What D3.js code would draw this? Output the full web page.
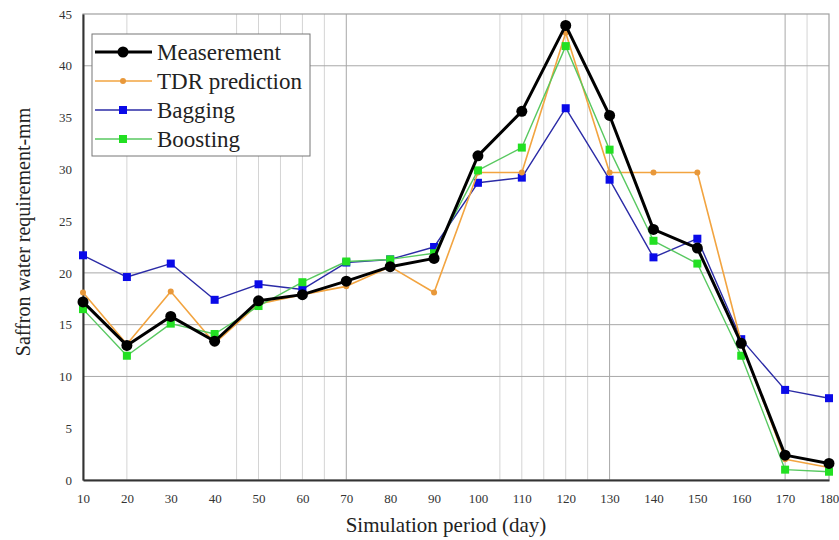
<!DOCTYPE html>
<html>
<head>
<meta charset="utf-8">
<script src="https://cdn.jsdelivr.net/npm/d3@7"></script>
<style>
  body { margin: 0; background: #fff; }
  svg text { font-family: "Liberation Serif", "Times New Roman", serif; }
</style>
</head>
<body>
<div id="chart"></div>
<script>
// Chart data
var days = [10, 20, 30, 40, 50, 60, 70, 80, 90, 100, 110, 120, 130, 140, 150, 160, 170, 180];
var measurement = [17.2, 13.0, 15.8, 13.4, 17.3, 17.9, 19.2, 20.6, 21.4, 31.3, 35.6, 43.9, 35.2, 24.2, 22.4, 13.2, 2.4, 1.6];
var tdr = [18.1, 13.1, 18.2, 13.2, 17.0, 17.9, 18.7, 20.6, 18.1, 29.7, 29.7, 43.2, 29.7, 29.7, 29.7, 13.3, 2.0, 1.2];
var bagging = [21.7, 19.6, 20.9, 17.4, 18.9, 18.4, 21.0, 21.3, 22.5, 28.7, 29.2, 35.9, 29.0, 21.5, 23.3, 13.6, 8.7, 7.9];
var boosting = [16.5, 12.0, 15.1, 14.1, 16.8, 19.1, 21.1, 21.3, 21.9, 29.9, 32.1, 41.9, 31.9, 23.1, 20.9, 12.0, 1.0, 0.8];

var xTicks = [10, 20, 30, 40, 50, 60, 70, 80, 90, 100, 110, 120, 130, 140, 150, 160, 170, 180];
var yTicks = [0, 5, 10, 15, 20, 25, 30, 35, 40, 45];

// gridlines as they appear in the figure
var xGridLight = [20, 45, 50, 55, 60, 65, 105, 110, 115, 120, 125, 175];
var xGridDark = [70, 130, 170];
var yGrid = [10, 15, 20, 40];

var svgWidth = 839;
var svgHeight = 540;

var margin = { top: 14, right: 10, bottom: 60, left: 83 };
var width = svgWidth - margin.left - margin.right;
var height = svgHeight - margin.top - margin.bottom;

var svg = d3.select("#chart")
    .append("svg")
    .attr("width", svgWidth)
    .attr("height", svgHeight);

var chartGroup = svg.append("g")
    .attr("transform", `translate(${margin.left}, ${margin.top})`);

var xScale = d3.scaleLinear().domain([10, 180]).range([0, width]);
var yScale = d3.scaleLinear().domain([0, 45]).range([height, 0]);

// Gridlines
chartGroup.selectAll(".vgrid-light")
    .data(xGridLight)
    .enter()
    .append("line")
    .attr("x1", d => xScale(d))
    .attr("x2", d => xScale(d))
    .attr("y1", 0)
    .attr("y2", height)
    .attr("stroke", "#d4d4d4")
    .attr("stroke-width", 1);

chartGroup.selectAll(".vgrid-dark")
    .data(xGridDark)
    .enter()
    .append("line")
    .attr("x1", d => xScale(d))
    .attr("x2", d => xScale(d))
    .attr("y1", 0)
    .attr("y2", height)
    .attr("stroke", "#a8a8a8")
    .attr("stroke-width", 1);

chartGroup.selectAll(".hgrid")
    .data(yGrid)
    .enter()
    .append("line")
    .attr("x1", 0)
    .attr("x2", width)
    .attr("y1", d => yScale(d))
    .attr("y2", d => yScale(d))
    .attr("stroke", "#a8a8a8")
    .attr("stroke-width", 1);

// Plot border (top and right)
chartGroup.append("rect")
    .attr("x", 0)
    .attr("y", 0)
    .attr("width", width)
    .attr("height", height)
    .attr("fill", "none")
    .attr("stroke", "#a0a0a0")
    .attr("stroke-width", 1.2);

// Axes
var bottomAxis = d3.axisBottom(xScale).tickValues(xTicks).tickSize(0).tickPadding(14);
var leftAxis = d3.axisLeft(yScale).tickValues(yTicks).tickSize(0).tickPadding(11);

var xAxis = chartGroup.append("g")
    .attr("transform", `translate(0, ${height})`)
    .call(bottomAxis);

var yAxis = chartGroup.append("g")
    .call(leftAxis);

[xAxis, yAxis].forEach(function (ax) {
    ax.select(".domain").attr("stroke", "#333").attr("stroke-width", 2);
    ax.selectAll("text")
        .attr("fill", "#333")
        .style("font-size", "13px")
        .style("font-family", "'Liberation Serif', serif");
});

// Series
var series = [
    { name: "Bagging", values: bagging, line: "#2b2ba6", lineWidth: 1.4, marker: "square", markerColor: "#0a0ae8", size: 8 },
    { name: "TDR prediction", values: tdr, line: "#f2a440", lineWidth: 1.6, marker: "circle", markerColor: "#e8983a", size: 3 },
    { name: "Boosting", values: boosting, line: "#58c860", lineWidth: 1.4, marker: "square", markerColor: "#22e022", size: 8 },
    { name: "Measerement", values: measurement, line: "#000", lineWidth: 3, marker: "circle", markerColor: "#000", size: 5.5 }
];

var line = d3.line()
    .x(d => xScale(d.x))
    .y(d => yScale(d.y));

series.forEach(function (s) {
    var pts = days.map((d, i) => ({ x: d, y: s.values[i] }));
    var g = chartGroup.append("g");
    g.append("path")
        .datum(pts)
        .attr("d", line)
        .attr("fill", "none")
        .attr("stroke", s.line)
        .attr("stroke-width", s.lineWidth)
        .attr("stroke-linejoin", "round");
    if (s.marker === "circle") {
        g.selectAll("circle")
            .data(pts)
            .enter()
            .append("circle")
            .attr("cx", d => xScale(d.x))
            .attr("cy", d => yScale(d.y))
            .attr("r", s.size)
            .attr("fill", s.markerColor);
    } else {
        g.selectAll("rect")
            .data(pts)
            .enter()
            .append("rect")
            .attr("x", d => xScale(d.x) - s.size / 2)
            .attr("y", d => yScale(d.y) - s.size / 2)
            .attr("width", s.size)
            .attr("height", s.size)
            .attr("fill", s.markerColor);
    }
});

// Legend
var legendOrder = ["Measerement", "TDR prediction", "Bagging", "Boosting"];
var legendGroup = svg.append("g")
    .attr("transform", "translate(92, 34)");

legendGroup.append("rect")
    .attr("width", 218)
    .attr("height", 122)
    .attr("fill", "#fff")
    .attr("stroke", "#777")
    .attr("stroke-width", 1);

legendOrder.forEach(function (name, i) {
    var s = series.find(d => d.name === name);
    var ly = 18 + i * 29;
    var lg = legendGroup.append("g").attr("transform", `translate(0, ${ly})`);
    lg.append("line")
        .attr("x1", 3)
        .attr("x2", 60)
        .attr("y1", 0)
        .attr("y2", 0)
        .attr("stroke", s.line)
        .attr("stroke-width", s.lineWidth);
    if (s.marker === "circle") {
        lg.append("circle")
            .attr("cx", 31)
            .attr("cy", 0)
            .attr("r", s.size)
            .attr("fill", s.markerColor);
    } else {
        lg.append("rect")
            .attr("x", 31 - s.size / 2)
            .attr("y", -s.size / 2)
            .attr("width", s.size)
            .attr("height", s.size)
            .attr("fill", s.markerColor);
    }
    lg.append("text")
        .attr("x", 65)
        .attr("y", 8)
        .attr("fill", "#222")
        .style("font-size", "23px")
        .text(name);
});

// Axis titles
svg.append("text")
    .attr("x", 446)
    .attr("y", 532)
    .attr("text-anchor", "middle")
    .attr("fill", "#222")
    .style("font-size", "21px")
    .text("Simulation period (day)");

svg.append("text")
    .attr("transform", "translate(30, 232) rotate(-90)")
    .attr("text-anchor", "middle")
    .attr("fill", "#222")
    .style("font-size", "20px")
    .text("Saffron water requirement-mm");
</script>
</body>
</html>
